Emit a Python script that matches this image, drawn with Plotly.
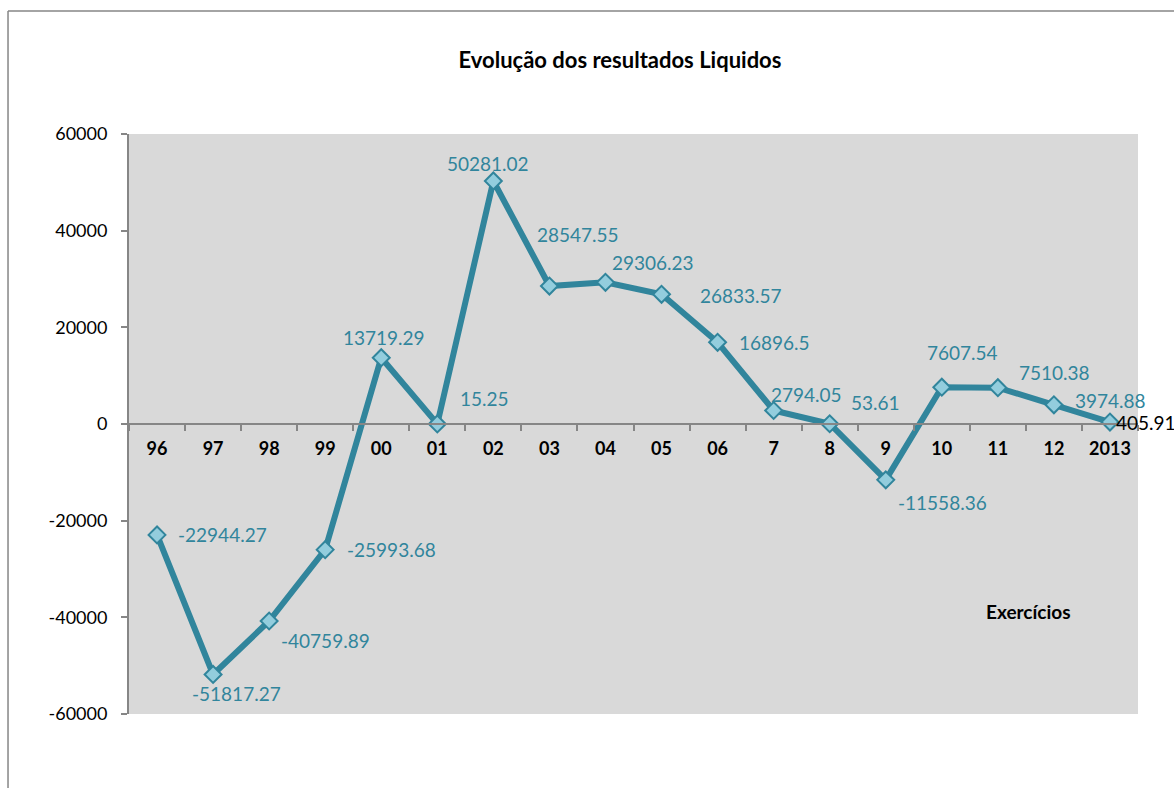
import plotly.graph_objects as go

# ---- data ----
years = ['96', '97', '98', '99', '00', '01', '02', '03', '04', '05', '06',
         '7', '8', '9', '10', '11', '12', '2013']
results = [-22944.27, -51817.27, -40759.89, -25993.68, 13719.29, 15.25,
           50281.02, 28547.55, 29306.23, 26833.57, 16896.5, 2794.05, 53.61,
           -11558.36, 7607.54, 7510.38, 3974.88, 405.91]
y_ticks = [-60000, -40000, -20000, 0, 20000, 40000, 60000]

# ---- label styling (pixel offsets of data labels) ----
label_shift = [(65, 0), (23, -19), (56, -19), (66, 0), (3, 20), (47, 25),
               (-5, 17), (29, 52), (48, 20), (79, -1), (57, 0), (33, 16),
               (46, 21), (57, -23), (21, 35), (57, 15), (57, 4), (None, 0)]

TEAL = '#31859C'
FONT = 'Lato, Carlito, Calibri, sans-serif'

fig = go.Figure()
fig.add_trace(go.Scatter(
    x=years, y=results, mode='lines+markers',
    line=dict(color=TEAL, width=6),
    marker=dict(symbol='diamond', size=13, color='#93CDDD',
                line=dict(color=TEAL, width=2)),
    hoverinfo='x+y', showlegend=False,
))

annotations = []
for i, v in enumerate(results):
    dx, dy = label_shift[i]
    if dx is None:
        annotations.append(dict(x=i, y=v, text=str(v), showarrow=False,
                                xanchor='left', yanchor='middle', xshift=4,
                                yshift=dy,
                                font=dict(family=FONT, size=19, color='black')))
    else:
        annotations.append(dict(x=i, y=v, text=str(v), showarrow=False,
                                xanchor='center', yanchor='middle', xshift=dx,
                                yshift=dy,
                                font=dict(family=FONT, size=19, color=TEAL)))

annotations.append(dict(x=0.891, y=0.176, xref='paper', yref='paper',
                        xanchor='center', yanchor='middle',
                        text='<b>Exercícios</b>', showarrow=False,
                        font=dict(family=FONT, size=19, color='black')))

# outer chart border (only top and left edges visible)
shapes = [
    dict(type='line', xref='paper', yref='paper', x0=-0.1199, x1=-0.1199,
         y0=1.2121, y1=-0.2, line=dict(color='#868686', width=1.5)),
    dict(type='line', xref='paper', yref='paper', x0=-0.1199, x1=1.1,
         y0=1.2121, y1=1.2121, line=dict(color='#868686', width=1.5)),
]

fig.update_layout(
    width=1174, height=788,
    margin=dict(l=129, r=36, t=134, b=74),
    paper_bgcolor='white', plot_bgcolor='#D9D9D9',
    title=dict(text='<b>Evolução dos resultados Liquidos</b>',
               x=0.5281, xanchor='center', y=0.9239, yanchor='middle',
               font=dict(family=FONT, size=22, color='black')),
    font=dict(family=FONT, color='black'),
    annotations=annotations, shapes=shapes,
    xaxis=dict(type='category', range=[-0.5, 17.5], anchor='free',
               position=0.5, showline=True, linecolor='#868686', linewidth=2,
               ticks='outside', tickson='boundaries', ticklen=6,
               tickcolor='#868686', tickwidth=2, showgrid=False,
               zeroline=False, ticklabelstandoff=8,
               tickfont=dict(family=FONT, size=18, color='black',
                             weight='bold')),
    yaxis=dict(range=[-60000, 60000], tickvals=y_ticks,
               ticktext=[str(t) for t in y_ticks], showline=True,
               linecolor='#868686', linewidth=2, ticks='outside', ticklen=6,
               tickcolor='#868686', tickwidth=2, showgrid=False,
               zeroline=False, ticklabelstandoff=10,
               tickfont=dict(family=FONT, size=18, color='black')),
)

fig.write_html(
    'out.html',
    config={'displayModeBar': False},
    post_script="document.body.style.margin='0';"
                "document.body.style.overflow='hidden';",
)
